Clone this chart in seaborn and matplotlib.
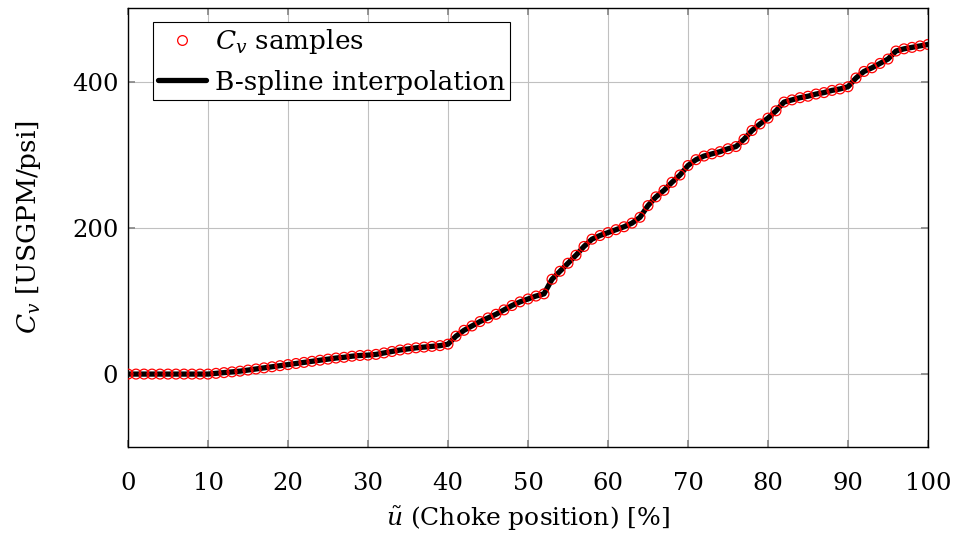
import numpy as np
import pandas as pd
import matplotlib
matplotlib.use("Agg")
import matplotlib.pyplot as plt
import seaborn as sns
from matplotlib.lines import Line2D

choke_position = list(range(0, 101))
cv_values = [
    0, 0, 0, 0, 0, 0, 0, 0, 0, 0,
    0, 1, 2, 3, 4, 5.5, 7, 8.5, 10, 11.5,
    13, 14.5, 16, 17.5, 19, 20.5, 22, 23, 24.5, 25.5,
    26, 27, 29, 31, 33, 34.5, 36, 37, 38, 39,
    41, 52, 60, 66, 72, 77, 82, 88, 94, 99,
    103, 107, 110, 130, 141, 152, 163, 175, 185, 190,
    194, 198, 202, 207, 215, 231, 243, 252, 263, 273,
    286, 294, 299, 302, 305, 309, 312, 322, 334, 343,
    351, 361, 373, 376, 379, 381, 384, 386, 389, 391,
    394, 406, 415, 420, 426, 432, 443, 446, 448, 450,
    452,
]
x_ticks = [0, 10, 20, 30, 40, 50, 60, 70, 80, 90, 100]
y_ticks = [0, 200, 400]

df = pd.DataFrame({"u": choke_position, "cv": cv_values})

sns.set_theme(style="whitegrid")
plt.rcParams["font.family"] = ["DejaVu Serif"]
plt.rcParams["mathtext.fontset"] = "dejavuserif"
plt.rcParams["text.color"] = "black"
plt.rcParams["axes.labelcolor"] = "black"
plt.rcParams["xtick.labelcolor"] = "black"
plt.rcParams["ytick.labelcolor"] = "black"

fig = plt.figure(figsize=(9.56, 5.4), dpi=100)
ax = fig.add_axes([128/956, 1-447/540, (928-128)/956, (447-8)/540])

sns.lineplot(data=df, x="u", y="cv", ax=ax, color="black", linewidth=3.8,
             zorder=2, legend=False)
sns.scatterplot(data=df, x="u", y="cv", ax=ax, marker="o", s=50,
                facecolors="none", edgecolor="red", linewidth=0.9,
                zorder=3, legend=False)

ax.set_xlim(0, 100)
ax.set_ylim(-100, 502)
ax.set_xticks(x_ticks)
ax.set_yticks(y_ticks)
ax.grid(True, color="#c0c0c0", linewidth=0.8)
for s in ax.spines.values():
    s.set_color("black")
    s.set_linewidth(1.0)
ax.tick_params(axis="both", direction="in", length=5, color="#888888",
               labelsize=17.5, top=True, right=True, bottom=True, left=True,
               labelcolor="black")
ax.tick_params(axis="x", pad=18)
ax.tick_params(axis="y", pad=7)

ax.set_xlabel(r"$\tilde{u}$ (Choke position) [%]", fontsize=18, labelpad=7,
              color="black")
ax.set_ylabel(r"$C_v$ [USGPM/psi]", fontsize=19, labelpad=21, color="black")

handles = [
    Line2D([], [], marker="o", linestyle="none", markerfacecolor="none",
           markeredgecolor="red", markersize=7, markeredgewidth=0.9),
    Line2D([], [], color="black", linewidth=3.8),
]
leg = ax.legend(handles, [r"$C_v$ samples", "B-spline interpolation"],
                loc="upper left", fontsize=19, frameon=True, fancybox=False,
                edgecolor="black", framealpha=1, borderpad=0.2,
                handlelength=1.8, handletextpad=0.35, labelspacing=0.5,
                borderaxespad=0, bbox_to_anchor=(0.031, 0.968),
                labelcolor="black")
leg.get_frame().set_linewidth(0.8)

fig.savefig("out.png", dpi=100)
